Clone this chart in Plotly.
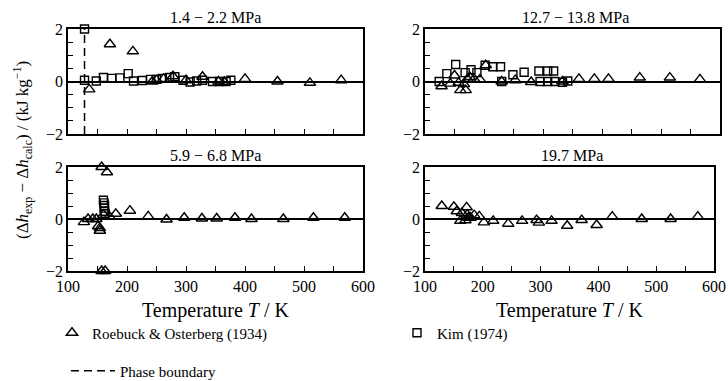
import plotly.graph_objects as go

# ---- data: deviations of measured isenthalpic enthalpy differences ----
# 1.4 - 2.2 MPa
p1_ro_T = [136, 171, 210, 243, 250, 262, 278, 300, 328, 355, 365, 400, 455, 510, 563]
p1_ro_dh = [-0.30, 1.42, 1.15, 0.00, 0.05, 0.10, 0.20, 0.05, 0.18, 0.00, -0.02, 0.10, 0.00, -0.05, 0.05]
p1_kim_T = [128, 128, 148, 160, 174, 188, 202, 211, 226, 240, 250, 260, 272, 281, 295, 307, 318, 328, 345, 357, 368, 376]
p1_kim_dh = [2.00, 0.05, 0.02, 0.15, 0.12, 0.14, 0.30, 0.02, 0.04, 0.08, 0.08, 0.12, 0.15, 0.18, 0.05, -0.02, 0.02, 0.05, 0.00, 0.00, 0.00, 0.05]
phase_T = 128

# 12.7 - 13.8 MPa
p2_ro_T = [128, 143, 150, 157, 160, 166, 169, 172, 176, 183, 193, 203, 230, 253, 280, 333, 361, 387, 411, 464, 515, 566]
p2_ro_dh = [-0.18, -0.08, 0.23, -0.05, -0.33, -0.10, -0.33, 0.10, 0.17, 0.10, 0.08, 0.62, 0.00, 0.05, -0.02, 0.00, 0.10, 0.10, 0.10, 0.15, 0.15, 0.08]
p2_kim_T = [124, 137, 152, 168, 178, 188, 202, 215, 228, 230, 249, 268, 293, 295, 308, 308, 318, 320, 333, 342]
p2_kim_dh = [0.00, 0.30, 0.65, 0.34, 0.45, 0.34, 0.62, 0.56, 0.56, 0.00, 0.26, 0.35, 0.40, 0.00, 0.40, 0.00, 0.40, 0.00, -0.03, 0.02]

# 5.9 - 6.8 MPa
p3_ro_T = [127, 134, 142, 148, 151, 154, 154, 157, 163, 157, 166, 160, 170, 181, 205, 236, 267, 297, 327, 352, 383, 411, 465, 516, 569]
p3_ro_dh = [-0.12, 0.00, 0.00, 0.00, -0.28, -0.45, -0.35, -2.00, -2.00, 2.00, 1.80, 0.17, 0.10, 0.20, 0.32, 0.10, -0.02, 0.05, 0.02, 0.02, 0.05, 0.00, 0.00, 0.05, 0.05]
p3_kim_T = [160, 161, 162, 161, 162, 163]
p3_kim_dh = [0.72, 0.62, 0.52, 0.42, 0.30, 0.20]

# 19.7 MPa
p4_ro_T = [129, 150, 155, 161, 164, 170, 172, 173, 175, 179, 185, 194, 202, 218, 244, 268, 293, 297, 319, 346, 371, 397, 424, 475, 525, 572]
p4_ro_dh = [0.50, 0.47, 0.30, -0.07, 0.23, -0.05, 0.45, 0.17, 0.05, 0.05, 0.15, 0.10, -0.13, -0.07, -0.18, -0.07, -0.04, -0.14, -0.07, -0.26, -0.04, -0.23, 0.09, 0.00, 0.00, 0.09]

panel_titles = ["1.4 \u2212 2.2 MPa", "12.7 \u2212 13.8 MPa", "5.9 \u2212 6.8 MPa", "19.7 MPa"]
x_major = [100, 200, 300, 400, 500, 600]
x_minor = [150, 250, 350, 450, 550]
y_major = [-2, 0, 2]
y_minor = [-1.5, -1, -0.5, 0.5, 1, 1.5]

W, H = 728, 381
FONT = "Liberation Serif, Times New Roman, serif"

# panel boxes in pixels: (left, right, top, bottom)
boxes = [(68, 363, 29, 134), (425, 720, 29, 134), (68, 363, 167, 271), (425, 714, 167, 271)]

fig = go.Figure()

tri = dict(symbol="triangle-up-open", size=10, color="black", line=dict(width=1.4, color="black"))
sq = dict(symbol="square-open", size=8, color="black", line=dict(width=1.4, color="black"))

series = [
    (p1_ro_T, p1_ro_dh, p1_kim_T, p1_kim_dh),
    (p2_ro_T, p2_ro_dh, p2_kim_T, p2_kim_dh),
    (p3_ro_T, p3_ro_dh, p3_kim_T, p3_kim_dh),
    (p4_ro_T, p4_ro_dh, None, None),
]

for i, (rt, rd, kt, kd) in enumerate(series):
    xa = "x" if i == 0 else f"x{i+1}"
    ya = "y" if i == 0 else f"y{i+1}"
    if i == 0:
        fig.add_trace(go.Scatter(x=[phase_T, phase_T], y=[-2, 2], mode="lines",
                                 line=dict(color="black", width=1.5, dash="8px,5px"),
                                 name="Phase boundary", legend="legend3",
                                 showlegend=True, xaxis=xa, yaxis=ya))
    fig.add_trace(go.Scatter(x=rt, y=rd, mode="markers", marker=tri, cliponaxis=False,
                             name="Roebuck & Osterberg (1934)", legend="legend",
                             showlegend=(i == 0), xaxis=xa, yaxis=ya))
    if kt is not None:
        fig.add_trace(go.Scatter(x=kt, y=kd, mode="markers", marker=sq, cliponaxis=False,
                                 name="Kim (1974)", legend="legend2",
                                 showlegend=(i == 0), xaxis=xa, yaxis=ya))


def legend_box(x_px, y_px, item_w=30):
    return dict(x=x_px / W, y=1 - y_px / H, xanchor="left", yanchor="middle",
                itemwidth=item_w, font=dict(family=FONT, size=15, color="black"),
                bgcolor="rgba(0,0,0,0)", borderwidth=0)


layout = dict(
    template="none",
    width=W, height=H,
    margin=dict(l=0, r=0, t=0, b=0, autoexpand=False),
    paper_bgcolor="white", plot_bgcolor="white",
    font=dict(family=FONT, color="black", size=15),
    showlegend=True,
    legend=legend_box(52, 333),
    legend2=legend_box(397, 333),
    legend3=legend_box(66, 371, item_w=44),
)

tick_style = dict(ticks="inside", ticklen=5, tickwidth=1.3, tickcolor="black")

annotations = []
for i, (l, r, t, b) in enumerate(boxes):
    k = "" if i == 0 else str(i + 1)
    bottom_row = i >= 2
    layout["xaxis" + k] = dict(
        domain=[l / W, r / W], range=[100, 600], anchor="y" + k,
        tickmode="array", tickvals=x_major, ticktext=[str(v) for v in x_major],
        showticklabels=bottom_row, **tick_style,
        minor=dict(tickvals=x_minor, **tick_style),
        showline=True, linecolor="black", linewidth=1.5, mirror=True,
        showgrid=False, zeroline=False, tickfont=dict(family=FONT, size=16),
        automargin=False, ticklabeloverflow="allow",
    )
    layout["yaxis" + k] = dict(
        domain=[1 - b / H, 1 - t / H], range=[-2, 2], anchor="x" + k,
        tickmode="array", tickvals=y_major, ticktext=["\u22122", "0", "2"],
        **tick_style, minor=dict(tickvals=y_minor, **tick_style),
        showline=True, linecolor="black", linewidth=1.5, mirror=True, showgrid=False,
        zeroline=True, zerolinecolor="black", zerolinewidth=1.5,
        tickfont=dict(family=FONT, size=16), automargin=False, ticklabeloverflow="allow",
    )
    annotations.append(dict(text=panel_titles[i], x=(l + r) / 2 / W + (0.004 if i % 2 == 1 else 0),
                            y=1 - (t - 1) / H, xref="paper", yref="paper",
                            xanchor="center", yanchor="bottom", showarrow=False,
                            font=dict(size=16)))
    if bottom_row:
        annotations.append(dict(text="Temperature <i>T</i> / K", x=(l + r) / 2 / W,
                                y=1 - 310 / H, xref="paper", yref="paper",
                                xanchor="center", yanchor="middle", showarrow=False,
                                font=dict(size=20)))

annotations.append(dict(
    text="(\u0394<i>h</i><sub>exp</sub> \u2212 \u0394<i>h</i><sub>calc</sub>) / (kJ kg<sup>\u22121</sup>)",
    x=22 / W, y=1 - 150 / H, xref="paper", yref="paper", textangle=-90,
    xanchor="center", yanchor="middle", showarrow=False, font=dict(size=17)))

layout["annotations"] = annotations
fig.update_layout(**layout)

fig.write_html("out.html")
